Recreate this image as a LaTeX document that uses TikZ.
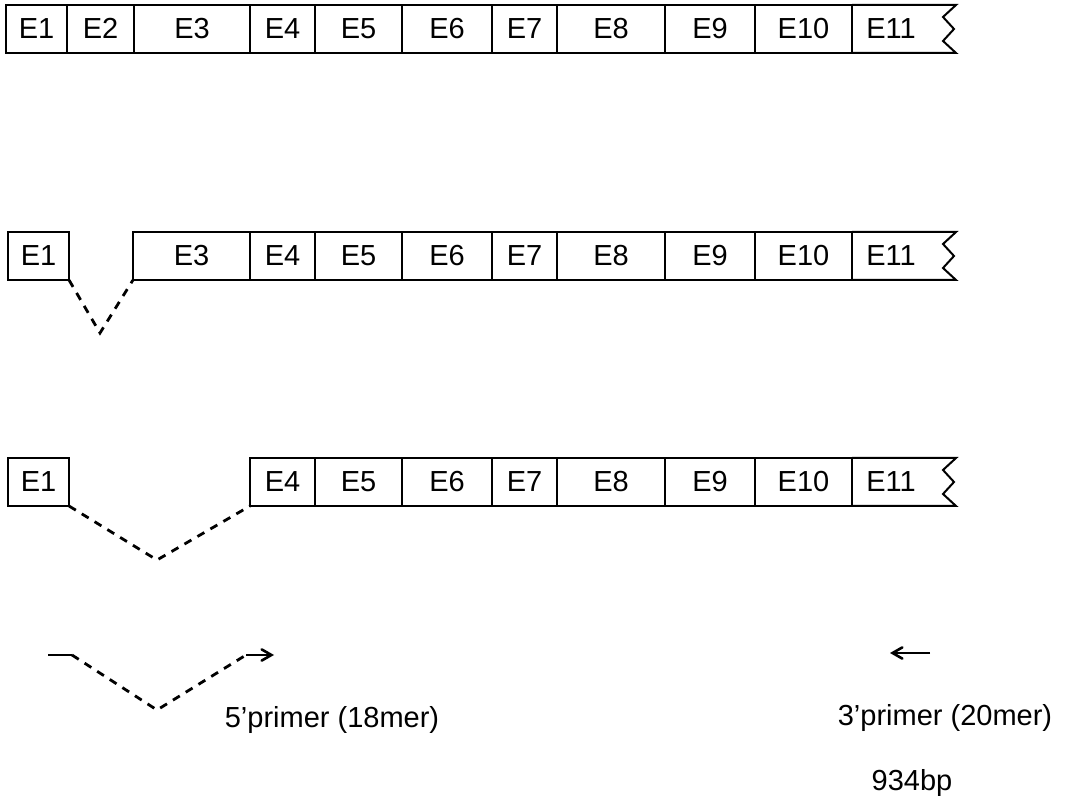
\documentclass[tikz,border=0pt]{standalone}
\usepackage{fontspec}
\setmainfont{Liberation Sans}
\usetikzlibrary{calc}
\usetikzlibrary{arrows}
\tikzset{exon/.style={shape=rectangle,draw=black,line width=1pt,inner sep=0,outer sep=0,minimum height=24pt,text height=10.4pt,text depth=1pt,font=\fontsize{14.5}{16}\selectfont}}
\tikzset{exontext/.style={inner sep=0,text height=10.4pt,text depth=1pt,font=\fontsize{14.5}{16}\selectfont}}
\tikzset{splice/.style={line width=1.4pt,dash pattern=on 4pt off 3.5pt}}

\begin{document}
\begin{tikzpicture}[x=0.5pt,y=-0.5pt]
\useasboundingbox (0,0) rectangle (1071,796);

% full transcript
\node[exon,minimum width=30.5pt] (a1) at (36.5,29) {E1};
\node[exon,minimum width=33.5pt] (a2) at (100.5,29) {E2};
\node[exon,minimum width=58pt] (a3) at (192,29) {E3};
\node[exon,minimum width=32.5pt] (a4) at (282.5,29) {E4};
\node[exon,minimum width=43.5pt] (a5) at (358.5,29) {E5};
\node[exon,minimum width=45pt] (a6) at (447,29) {E6};
\node[exon,minimum width=32.5pt] (a7) at (524.5,29) {E7};
\node[exon,minimum width=54pt] (a8) at (611,29) {E8};
\node[exon,minimum width=45pt] (a9) at (710,29) {E9};
\node[exon,minimum width=48.5pt] (a10) at (803.5,29) {E10};
\node[exontext] (a11) at (891,29) {E11};
\draw[line width=1pt] (a10.north east) -- (956,5) -- (943,17) -- (954,29) -- (943,41) -- (956,53) -- (a10.south east);

% without exon 2
\node[exon,minimum width=30.5pt] (b1) at (38.5,256) {E1};
\node[exon,minimum width=58.5pt] (b3) at (191.5,256) {E3};
\node[exon,minimum width=32.5pt] (b4) at (282.5,256) {E4};
\node[exon,minimum width=43.5pt] (b5) at (358.5,256) {E5};
\node[exon,minimum width=45pt] (b6) at (447,256) {E6};
\node[exon,minimum width=32.5pt] (b7) at (524.5,256) {E7};
\node[exon,minimum width=54pt] (b8) at (611,256) {E8};
\node[exon,minimum width=45pt] (b9) at (710,256) {E9};
\node[exon,minimum width=48.5pt] (b10) at (803.5,256) {E10};
\node[exontext] (b11) at (891,256) {E11};
\draw[line width=1pt] (b10.north east) -- (956,232) -- (943,244) -- (954,256) -- (943,268) -- (956,280) -- (b10.south east);

\coordinate (b-dip) at (100,333);
\draw[splice] (b1.south east) -- (b-dip) -- (b3.south west);

% without exons 2 and 3
\node[exon,minimum width=30.5pt] (c1) at (38.5,482) {E1};
\node[exon,minimum width=32.5pt] (c4) at (282.5,482) {E4};
\node[exon,minimum width=43.5pt] (c5) at (358.5,482) {E5};
\node[exon,minimum width=45pt] (c6) at (447,482) {E6};
\node[exon,minimum width=32.5pt] (c7) at (524.5,482) {E7};
\node[exon,minimum width=54pt] (c8) at (611,482) {E8};
\node[exon,minimum width=45pt] (c9) at (710,482) {E9};
\node[exon,minimum width=48.5pt] (c10) at (803.5,482) {E10};
\node[exontext] (c11) at (891,482) {E11};
\draw[line width=1pt] (c10.north east) -- (956,458) -- (943,470) -- (954,482) -- (943,494) -- (956,506) -- (c10.south east);

\coordinate (c-dip) at (157,560);
\draw[splice] (c1.south east) -- (c-dip) -- (c4.south west);

% primers
\coordinate (p-a) at (48,655);
\coordinate (p-b) at (72,655);
\coordinate (p-dip) at (157,710);
\coordinate (p-c) at (246,655);
\coordinate (p-d) at (274,655);
\draw[line width=1.4pt] (p-a) -- (p-b);
\draw[splice] (p-b) -- (p-dip) -- (p-c);
\draw[line width=1.3pt,-angle 60] (p-c) -- (p-d);

\coordinate (q-a) at (930,653);
\coordinate (q-b) at (890,653);
\draw[line width=1.3pt,-angle 60] (q-a) -- (q-b);

\node[exontext] (p-lab) at (332,718) {5’primer (18mer)};
\node[exontext] (q-lab) at (945,716) {3’primer (20mer)};
\node[exontext] (len) at (912,781) {934bp};

\end{tikzpicture}
\end{document}
